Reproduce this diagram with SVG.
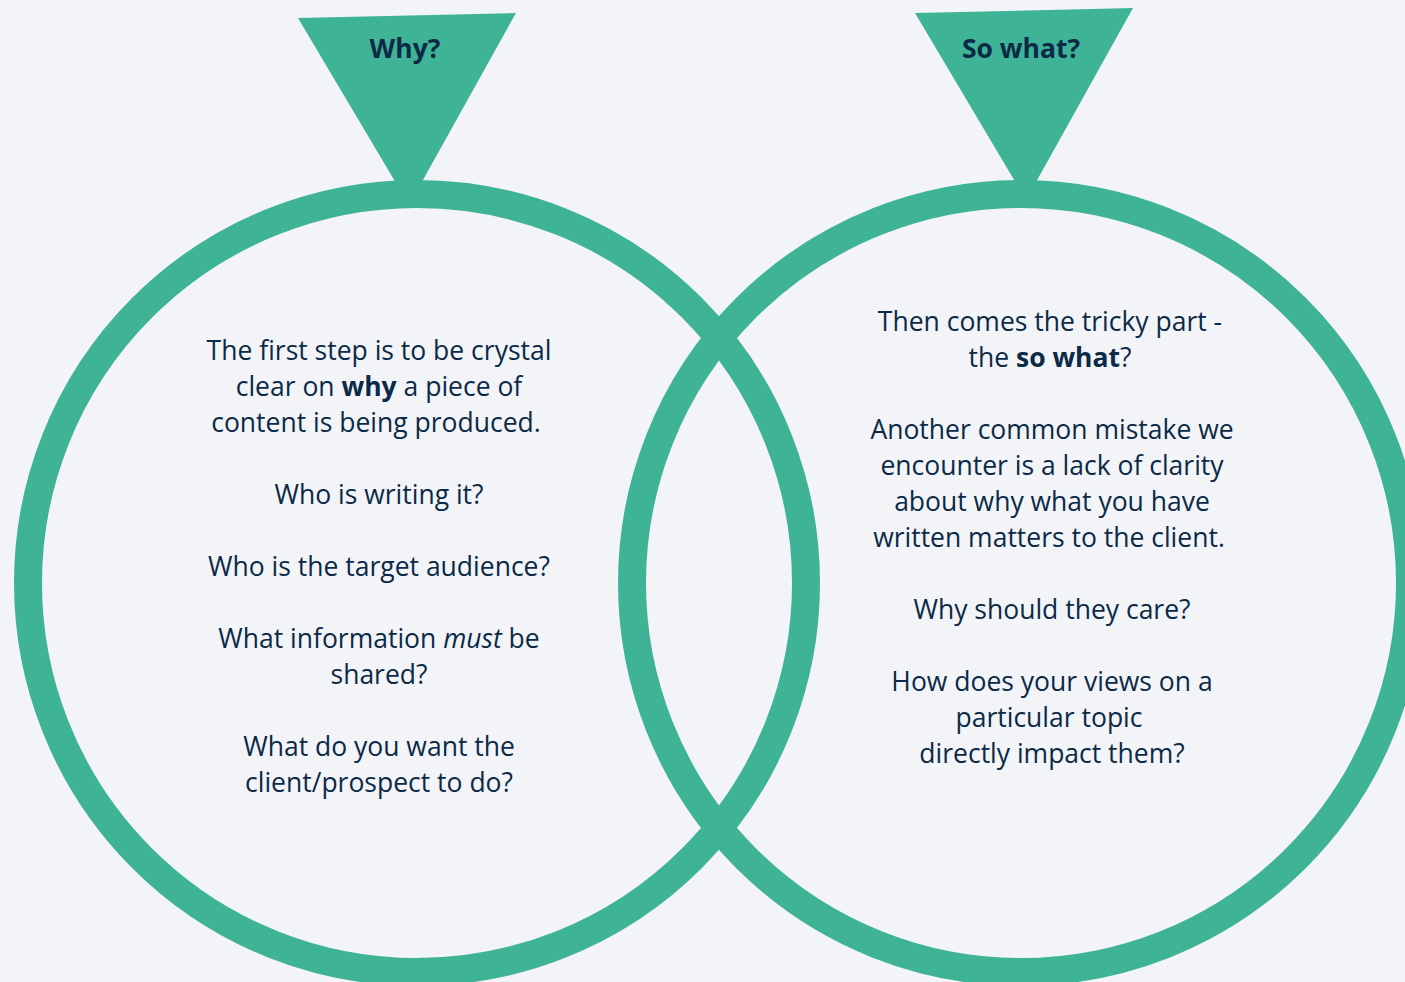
<svg xmlns="http://www.w3.org/2000/svg" width="1405" height="982" viewBox="0 0 1405 982">
  <style>
    .ring { fill: none; stroke: #3fb396; stroke-width: 28; }
    .flag { fill: #3fb396; }
    .title { font-family: "Open Sans", "Noto Sans", sans-serif; font-weight: 700; font-size: 26.5px; fill: #0b2a47; text-anchor: middle; }
    .body { font-family: "Open Sans", "Noto Sans", sans-serif; font-size: 26.5px; fill: #0b2a47; text-anchor: middle; }
    .b { font-weight: 700; }
    .i { font-style: italic; }
  </style>
  <rect width="1405" height="982" fill="#f3f4f8"/>

  <g id="connectors">
    <polygon class="flag" points="298,18 516,13 409,205"/>
    <polygon class="flag" points="915,13 1133,8 1026,200"/>
  </g>

  <g id="why">
    <circle class="ring" cx="417" cy="583" r="389"/>
    <text class="title" x="405" y="58">Why?</text>
    <text class="body" x="379" y="360">The first step is to be crystal</text>
    <text class="body" x="379" y="396">clear on <tspan class="b">why</tspan> a piece of</text>
    <text class="body" x="376" y="432">content is being produced.</text>
    <text class="body" x="379" y="504">Who is writing it?</text>
    <text class="body" x="379" y="576">Who is the target audience?</text>
    <text class="body" x="379" y="648">What information <tspan class="i">must</tspan> be</text>
    <text class="body" x="379" y="684">shared?</text>
    <text class="body" x="379" y="756">What do you want the</text>
    <text class="body" x="379" y="792">client/prospect to do?</text>
  </g>

  <g id="so-what">
    <circle class="ring" cx="1021" cy="583" r="389"/>
    <text class="title" x="1021" y="58">So what?</text>
    <text class="body" x="1050" y="331">Then comes the tricky part -</text>
    <text class="body" x="1050" y="367">the <tspan class="b">so what</tspan>?</text>
    <text class="body" x="1052" y="439">Another common mistake we</text>
    <text class="body" x="1052" y="475">encounter is a lack of clarity</text>
    <text class="body" x="1052" y="511">about why what you have</text>
    <text class="body" x="1049" y="547">written matters to the client.</text>
    <text class="body" x="1052" y="619">Why should they care?</text>
    <text class="body" x="1052" y="691">How does your views on a</text>
    <text class="body" x="1049" y="727">particular topic</text>
    <text class="body" x="1052" y="763">directly impact them?</text>
  </g>
</svg>
